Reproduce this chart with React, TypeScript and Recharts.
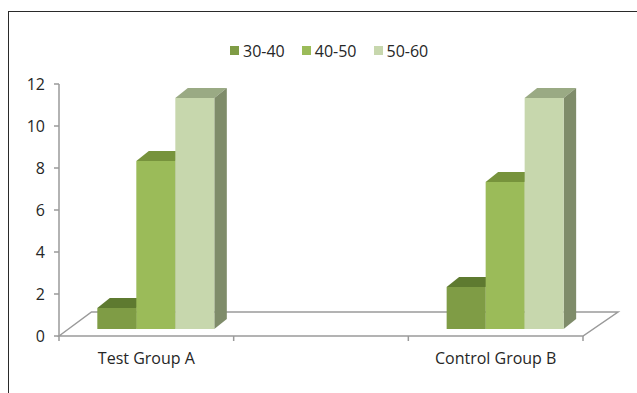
import { BarChart, Bar, XAxis, YAxis, Legend, Customized } from 'recharts';

const GROUPS = ['Test Group A', '', 'Control Group B'];
const AGE_30_40 = [1, null, 2];
const AGE_40_50 = [8, null, 7];
const AGE_50_60 = [11, null, 11];
const SERIES_NAMES = ['30-40', '40-50', '50-60'];
const Y_TICKS = [0, 2, 4, 6, 8, 10, 12];

const W = 637;
const H = 393;
const M = { top: 84, right: 54, bottom: 0, left: 0 };
const Y_AXIS_W = 59;
const X_AXIS_H = 57;
const FONT = '"Open Sans", sans-serif';
const TEXT = '#262626';
const AXIS = '#9a9a9a';

// profondeur de la "3D" : plancher et barres
const FLOOR_DX_L = 32.5;
const FLOOR_DX_R = 35;
const FLOOR_DY = 24;
const FRONT_DX = 9.5;
const FRONT_DY = 7;
const DEPTH_DX = 12.5;
const DEPTH_DY = 10;

const COLORS = [
  { front: '#7f9c45', top: '#5e7a30', side: '#5a6e34' },
  { front: '#9bbb59', top: '#77933c', side: '#6f8a3c' },
  { front: '#c7d7ad', top: '#9aaa84', side: '#7f8c6a' },
];

const rows = GROUPS.map((name, i) => ({
  name,
  s0: AGE_30_40[i],
  s1: AGE_40_50[i],
  s2: AGE_50_60[i],
}));

function bar3D(c: { front: string; top: string; side: string }) {
  return (p: any) => {
    const { x, y, width: w, height: h } = p;
    if (!h || h <= 0) return <g />;
    const x0 = x + FRONT_DX;
    const y0 = y - FRONT_DY;
    return (
      <g>
        <path
          d={`M${x0},${y0} L${x0 + DEPTH_DX},${y0 - DEPTH_DY} L${x0 + w + DEPTH_DX},${y0 - DEPTH_DY} L${x0 + w},${y0} Z`}
          fill={c.top}
        />
        <path
          d={`M${x0 + w},${y0} L${x0 + w + DEPTH_DX},${y0 - DEPTH_DY} L${x0 + w + DEPTH_DX},${y0 + h - DEPTH_DY} L${x0 + w},${y0 + h} Z`}
          fill={c.side}
        />
        <rect x={x0} y={y0} width={w} height={h} fill={c.front} />
      </g>
    );
  };
}

function Floor() {
  const left = M.left + Y_AXIS_W;
  const right = W - M.right;
  const bottom = H - M.bottom - X_AXIS_H;
  const band = (right - left) / GROUPS.length;
  const ticks = GROUPS.map((_, i) => left + i * band).concat(right);
  return (
    <g>
      <path
        d={`M${left},${bottom} L${left + FLOOR_DX_L},${bottom - FLOOR_DY} L${right + FLOOR_DX_R},${bottom - FLOOR_DY} L${right},${bottom} Z`}
        fill="#fff"
        stroke={AXIS}
        strokeWidth={1.5}
      />
      {ticks.map((t) => (
        <line key={t} x1={t} x2={t} y1={bottom} y2={bottom + 5} stroke={AXIS} strokeWidth={1.5} />
      ))}
    </g>
  );
}

const legendContent = () => (
  <div style={{ display: 'flex', fontFamily: FONT, fontSize: 16, lineHeight: '20px', color: TEXT }}>
    {SERIES_NAMES.map((n, i) => (
      <div key={n} style={{ display: 'flex', alignItems: 'center', marginRight: 17 }}>
        <span style={{ width: 9, height: 9, background: COLORS[i].front, marginRight: 4, display: 'inline-block' }} />
        {n}
      </div>
    ))}
  </div>
);

export default function App() {
  return (
    <div style={{ position: 'absolute', left: 0, top: 0, width: W, height: H, fontFamily: FONT, background: '#fff' }}>
      <div
        style={{
          position: 'absolute',
          left: 8,
          top: 11,
          width: W - 8,
          height: H - 11,
          borderTop: '1.5px solid #2a2a2a',
          borderLeft: '1.5px solid #2a2a2a',
          boxSizing: 'border-box',
        }}
      />
      <BarChart width={W} height={H} data={rows} margin={M} barCategoryGap="16.5%" barGap={0}>
        <Customized component={Floor} />
        <XAxis
          dataKey="name"
          height={X_AXIS_H}
          axisLine={false}
          tickLine={false}
          tickSize={5}
          tickMargin={12}
          interval={0}
          tick={{ fontSize: 16, fill: TEXT, fontFamily: FONT }}
        />
        <YAxis
          width={Y_AXIS_W}
          domain={[0, 12]}
          ticks={Y_TICKS}
          interval={0}
          axisLine={{ stroke: AXIS, strokeWidth: 1.5 }}
          tickLine={{ stroke: AXIS, strokeWidth: 1.5 }}
          tickSize={5}
          tickMargin={9}
          tick={{ fontSize: 16, fill: TEXT, fontFamily: FONT }}
        />
        <Legend
          layout="vertical"
          align="center"
          verticalAlign="middle"
          content={legendContent}
          wrapperStyle={{ left: 230, top: 40.5, width: 'auto' }}
        />
        {SERIES_NAMES.map((n, i) => (
          <Bar key={n} dataKey={`s${i}`} name={n} fill={COLORS[i].front} shape={bar3D(COLORS[i])} isAnimationActive={false} />
        ))}
      </BarChart>
    </div>
  );
}
